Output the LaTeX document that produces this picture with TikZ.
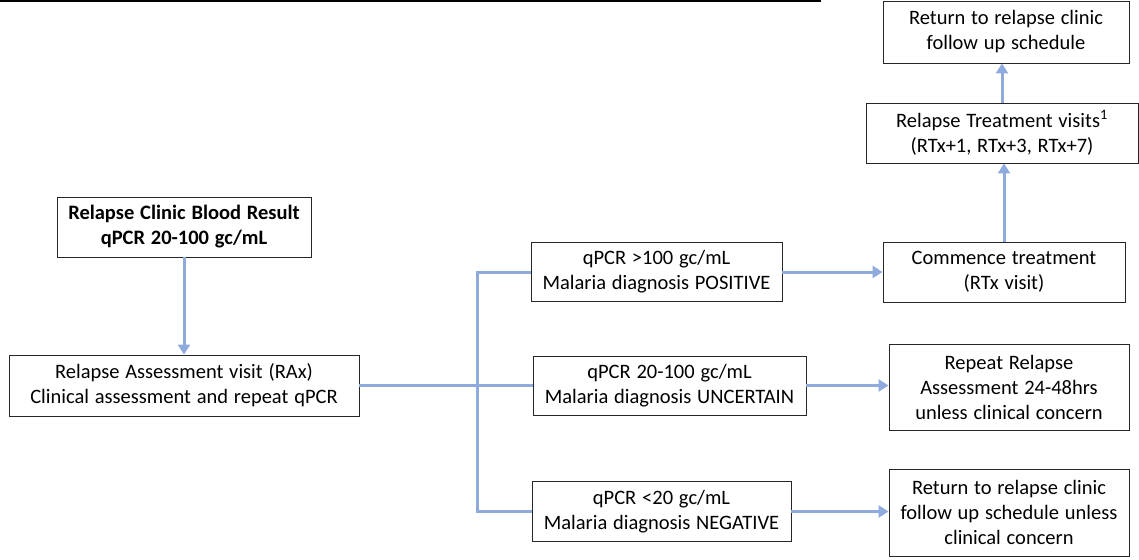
\documentclass[tikz,border=0pt]{standalone}
\usepackage{fontspec}
\setmainfont{Carlito}[WordSpace={1.25,1,1}]
\usetikzlibrary{arrows.meta}
\definecolor{conn}{RGB}{143,170,220}
\tikzset{
  box/.style={draw=black!85, line width=0.9pt, rectangle, align=center, inner sep=0pt,
    font=\fontsize{20.5}{25}\selectfont},
  link/.style={draw=conn, line width=3pt},
  arr/.style={link, -{Triangle[length=10pt,width=12pt]}},
}
\begin{document}
\begin{tikzpicture}[x=1pt,y=-1pt]
\useasboundingbox (0,0) rectangle (1139,559);
\draw[line width=2pt] (0,1) -- (821,1);
\node[box, minimum width=254pt, minimum height=60pt] (A) at (184,227) {\textbf{Relapse Clinic Blood Result}\\\textbf{qPCR 20-100 gc/mL}};
\node[box, minimum width=350pt, minimum height=61pt] (B) at (184,385.5) {Relapse Assessment visit (RAx)\\Clinical assessment and repeat qPCR};
\node[box, minimum width=251pt, minimum height=59pt] (C1) at (656.5,272) {qPCR >100 gc/mL\\Malaria diagnosis POSITIVE};
\node[box, minimum width=273pt, minimum height=59pt] (C2) at (669.5,385.5) {qPCR 20-100 gc/mL\\Malaria diagnosis UNCERTAIN};
\node[box, minimum width=259pt, minimum height=60pt] (C3) at (661.5,511.5) {qPCR <20 gc/mL\\Malaria diagnosis NEGATIVE};
\node[box, minimum width=242pt, minimum height=60pt] (D1) at (1004,272) {Commence treatment\\(RTx visit)};
\node[box, minimum width=240pt, minimum height=86pt] (D2) at (1009,387) {Repeat Relapse\\Assessment 24-48hrs\\unless clinical concern};
\node[box, minimum width=240pt, minimum height=87pt] (D3) at (1009,512.5) {Return to relapse clinic\\follow up schedule unless\\clinical concern};
\node[box, minimum width=272pt, minimum height=60pt] (R) at (1002,133) {Relapse Treatment visits\textsuperscript{1}\\(RTx+1, RTx+3, RTx+7)};
\node[box, minimum width=246pt, minimum height=62pt] (E) at (1006,32) {Return to relapse clinic\\follow up schedule};
\coordinate (J) at (477,385.5);
\draw[arr] (A.south) -- (B.north);
\draw[link] (B.east) -- (J);
\draw[link] (J) |- (C1.west);
\draw[link] (J) |- (C3.west);
\draw[link] (J) -- (C2.west);
\draw[arr] (C1.east) -- (D1.west);
\draw[arr] (C2.east) -- (C2.east -| D2.west);
\draw[arr] (C3.east) -- (C3.east -| D3.west);
\draw[arr] (D1.north) -- (D1.north |- R.south);
\draw[arr] (R.north) -- (R.north |- E.south);
\end{tikzpicture}
\end{document}
